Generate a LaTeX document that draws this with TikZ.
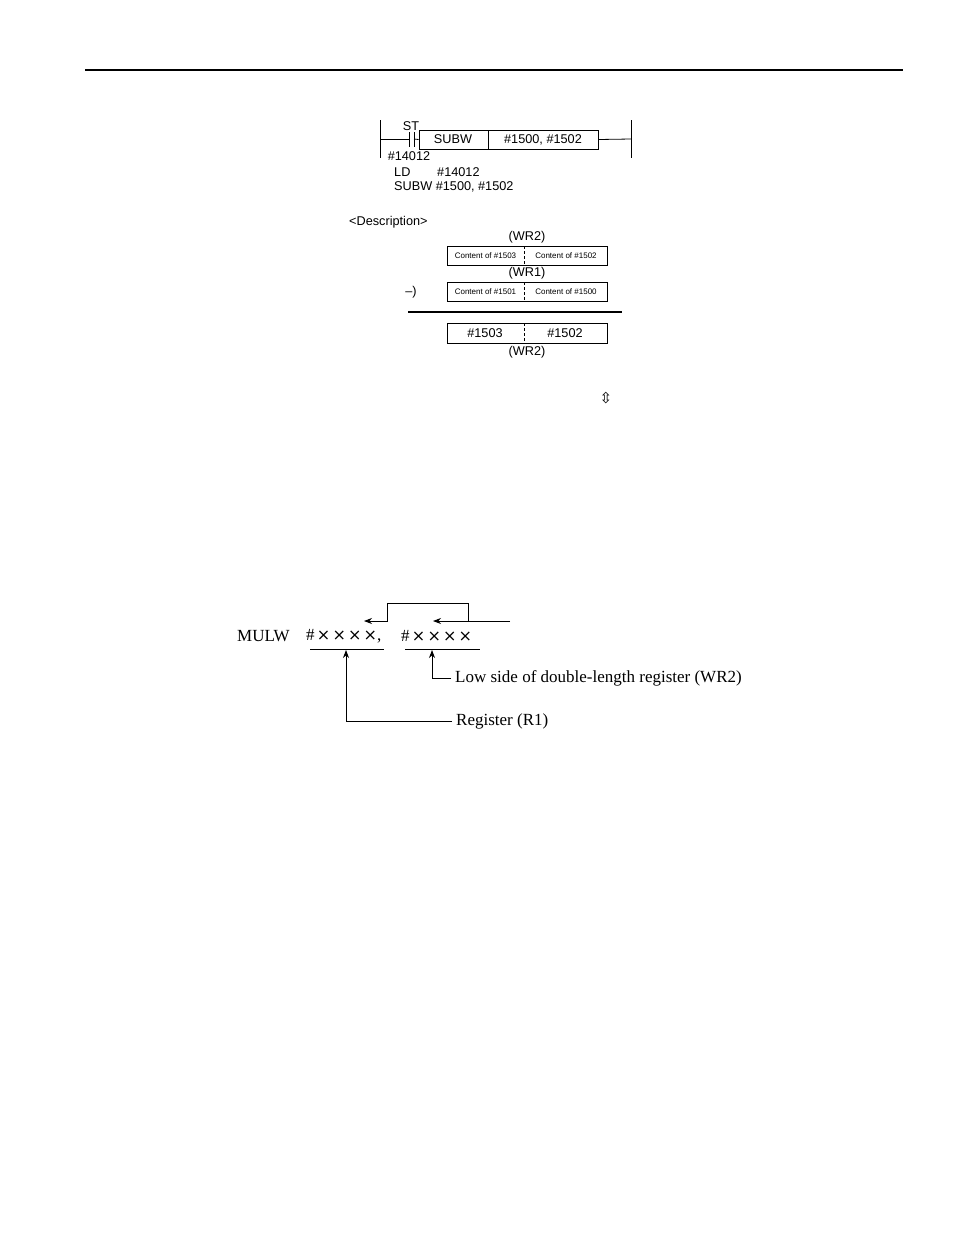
\documentclass[tikz,border=0pt]{standalone}
\usepackage{fontspec}
\setmainfont{Liberation Serif}
\setsansfont{Liberation Sans}
\newfontfamily\djvfont{DejaVu Sans}
\usetikzlibrary{arrows.meta}
\newcommand{\xx}{{\djvfont\fontsize{16}{16}\selectfont\hspace{2.2pt}×}}
\begin{document}
\begin{tikzpicture}[x=1pt,y=-1pt,
  sf/.style={font=\sffamily\fontsize{12.7}{13}\selectfont,inner sep=0pt},
  tiny/.style={font=\sffamily\fontsize{8}{9}\selectfont,inner sep=0pt},
  rm/.style={font=\fontsize{17}{18}\selectfont,inner sep=0pt},
  ln/.style={line width=0.8pt},
  arr/.style={ln,-{Stealth[length=8pt,width=6pt]}}]
\useasboundingbox (0,0) rectangle (954,1235);
\draw[line width=1.5pt] (85,70) -- (903,70);
% ladder
\coordinate (lt) at (380,120); \coordinate (lb) at (380,158);
\coordinate (rt) at (631,120); \coordinate (rb) at (631,158);
\draw[ln] (lt) -- (lb); \draw[ln] (rt) -- (rb);
\coordinate (l0) at (380,139); \coordinate (r0) at (631,139);
\coordinate (c1) at (409,139); \coordinate (c2) at (414,139);
\draw[ln] (l0) -- (c1) (409,132) -- (409,147) (414,132) -- (414,147);
\node[draw,ln,minimum width=179,minimum height=19,inner sep=0pt] (box) at (508.5,139.5) {};
\draw[ln] (c2) -- (box.west) (box.east) -- (r0);
\draw[ln] (488,130) -- (488,149);
\node[sf] (sub) at (453,139.5) {SUBW};
\node[sf] (args) at (543,139.5) {\#1500, \#1502};
\node[sf] (st) at (411,126.5) {ST};
\node[sf] (addr) at (409,156) {\#14012};
\node[sf,anchor=west] (ld) at (394,172) {LD};
\node[sf,anchor=west] (ldx) at (437,172) {\#14012};
\node[sf,anchor=west] (sb) at (394,187) {SUBW\ \#1500, \#1502};
\node[sf,anchor=west] (desc) at (349,222) {<Description>};
% boxes
\tikzset{reg/.style={draw,ln,minimum width=160,minimum height=19,inner sep=0pt}}
\node[sf] (w2a) at (527,237) {(WR2)};
\node[reg] (b1) at (527,255.5) {};
\draw[ln,densely dashed] (524,246) -- (524,265);
\node[tiny] at (485.5,255.5) {Content of \#1503};
\node[tiny] at (566,255.5) {Content of \#1502};
\node[sf] (w1) at (527,273) {(WR1)};
\node[reg] (b2) at (527,291.5) {};
\draw[ln,densely dashed] (524,282) -- (524,301);
\node[tiny] at (485.5,291.5) {Content of \#1501};
\node[tiny] at (566,291.5) {Content of \#1500};
\node[sf] (minus) at (411,292) {--)};
\draw[line width=1.1pt] (408,312) -- (622,312);
\node[reg,minimum height=20] (b3) at (527,333) {};
\draw[ln,densely dashed] (524,323) -- (524,343);
\node[sf] at (485,333) {\#1503};
\node[sf] at (565,333) {\#1502};
\node[sf] (w2b) at (527,352) {(WR2)};
\node[font=\djvfont\fontsize{15}{15}\selectfont,inner sep=0pt] (ud) at (606,398) {⇳};
% MULW
\node[rm,anchor=west] (mulw) at (237,636) {MULW};
\node[rm,anchor=west] (a1) at (306,636) {\#\xx\xx\xx\xx,};
\node[rm,anchor=west] (a2) at (401,636) {\#\xx\xx\xx\xx};
\draw[ln] (310,649) -- (384,649) (405,649) -- (480,649);
\node[rm,anchor=west] (t1) at (456,721) {Register (R1)};
\node[rm,anchor=west] (t2) at (455,678) {Low side of double-length register (WR2)};
\coordinate (p1) at (346,650); \coordinate (p2) at (432,650);
\draw[arr] (t1.west) ++(-4,0) -| (p1);
\draw[arr] (t2.west) ++(-4,0) -| (p2);
\coordinate (q0) at (510,621); \coordinate (q1) at (433,621);
\draw[arr] (q0) -- (q1);
\coordinate (s0) at (468,621); \coordinate (s1) at (364,621);
\draw[arr] (s0) -- (468,603) -- (387,603) -- (387,621) -- (s1);
\end{tikzpicture}
\end{document}
